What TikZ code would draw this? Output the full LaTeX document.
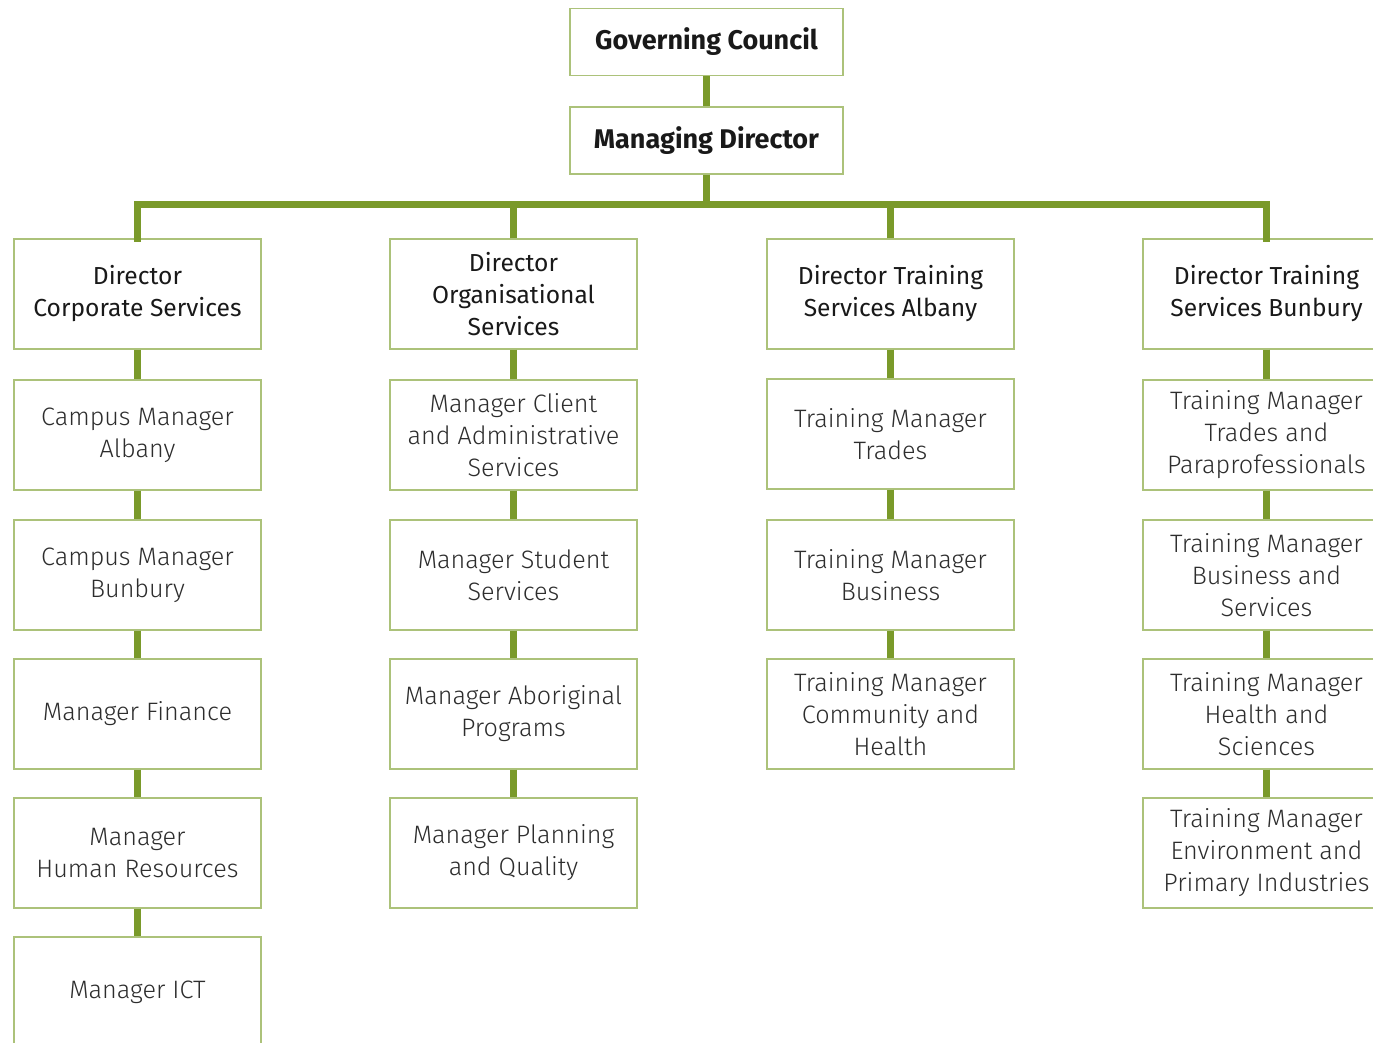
\documentclass[tikz,border=0pt]{standalone}
\usepackage{fontspec}
\setmainfont{Fira Sans}
\newfontfamily\lightfont{Fira Sans Light}
\usepackage{tikz}
\usetikzlibrary{positioning}

\definecolor{linegreen}{RGB}{122,154,42}
\definecolor{boxgreen}{RGB}{172,194,122}
\definecolor{darktext}{RGB}{25,25,25}
\definecolor{softtext}{RGB}{45,45,45}

\begin{document}
\begin{tikzpicture}[x=0.5pt,y=-0.5pt,
		box/.style={draw=boxgreen, line width=0.7pt, fill=white, minimum width=123.5pt, minimum height=55pt, align=center, inner sep=0pt},
		topbox/.style={box, minimum height=33.5pt, font=\fontsize{13.5}{16}\selectfont\bfseries, text=darktext},
		dirbox/.style={box, font=\fontsize{12.3}{16}\selectfont, text=darktext},
		mgrbox/.style={box, font=\lightfont\fontsize{12.6}{16}\selectfont, text=softtext},
		link/.style={draw=linegreen, line width=3.5pt}
	]
	\clip (0,0) rectangle (1373,1043);
	\fill[white] (0,0) rectangle (1373,1043);
	
	% top of the chart
	\node [topbox, minimum width=136.5pt] (gc) at (706.5,42) {Governing Council};
	\node [topbox, minimum width=136.5pt] (md) at (706.5,140.5) {Managing Director};
	
	% directors
	\node [dirbox] (dcs) at (137.5,294) {Director\\Corporate Services};
	\node [dirbox] (dos) at (513.5,294) {Director\\Organisational\\Services};
	\node [dirbox] (dta) at (890.5,294) {Director Training\\Services Albany};
	\node [dirbox] (dtb) at (1266.5,294) {Director Training\\Services Bunbury};
	
	% corporate services
	\node [mgrbox] (cma) at (137.5,435) {Campus Manager\\Albany};
	\node [mgrbox] (cmb) at (137.5,575) {Campus Manager\\Bunbury};
	\node [mgrbox] (mf) at (137.5,714) {Manager Finance};
	\node [mgrbox] (mhr) at (137.5,853) {Manager\\Human Resources};
	\node [mgrbox] (mict) at (137.5,992) {Manager ICT};
	
	% organisational services
	\node [mgrbox] (mca) at (513.5,435) {Manager Client\\and Administrative\\Services};
	\node [mgrbox] (mss) at (513.5,575) {Manager Student\\Services};
	\node [mgrbox] (map) at (513.5,714) {Manager Aboriginal\\Programs};
	\node [mgrbox] (mpq) at (513.5,853) {Manager Planning\\and Quality};
	
	% training services albany
	\node [mgrbox] (tmt) at (890.5,434) {Training Manager\\Trades};
	\node [mgrbox] (tmb) at (890.5,575) {Training Manager\\Business};
	\node [mgrbox] (tmc) at (890.5,714) {Training Manager\\Community and\\Health};
	
	% training services bunbury
	\node [mgrbox] (tmtp) at (1266.5,435) {Training Manager\\Trades and\\Paraprofessionals};
	\node [mgrbox] (tmbs) at (1266.5,575) {Training Manager\\Business and\\Services};
	\node [mgrbox] (tmhs) at (1266.5,714) {Training Manager\\Health and\\Sciences};
	\node [mgrbox] (tmep) at (1266.5,853) {Training Manager\\Environment and\\Primary Industries};
	
	% connectors
	\coordinate (bar) at (706.5,205);
	\draw [link] (gc) -- (md);
	\draw [link] (md.south) -- (bar);
	\draw [link, line cap=rect] (dcs.north) |- (bar) -| (dtb.north);
	\draw [link] (dos.north) -- (dos.north |- bar);
	\draw [link] (dta.north) -- (dta.north |- bar);
	
	\draw [link] (dcs) -- (cma);
	\draw [link] (cma) -- (cmb);
	\draw [link] (cmb) -- (mf);
	\draw [link] (mf) -- (mhr);
	\draw [link] (mhr) -- (mict);
	
	\draw [link] (dos) -- (mca);
	\draw [link] (mca) -- (mss);
	\draw [link] (mss) -- (map);
	\draw [link] (map) -- (mpq);
	
	\draw [link] (dta) -- (tmt);
	\draw [link] (tmt) -- (tmb);
	\draw [link] (tmb) -- (tmc);
	
	\draw [link] (dtb) -- (tmtp);
	\draw [link] (tmtp) -- (tmbs);
	\draw [link] (tmbs) -- (tmhs);
	\draw [link] (tmhs) -- (tmep);
\end{tikzpicture}
\end{document}
